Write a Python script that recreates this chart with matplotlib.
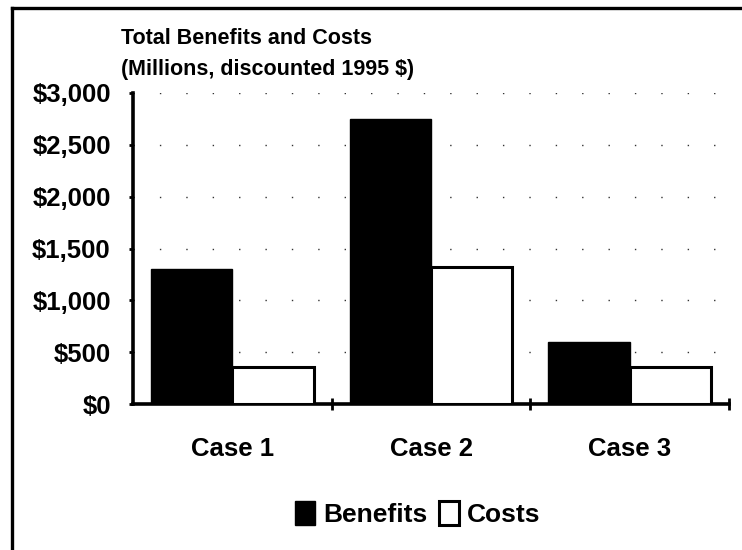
import matplotlib
matplotlib.use("Agg")
import matplotlib.pyplot as plt
from matplotlib.lines import Line2D
from matplotlib.ticker import FuncFormatter
import numpy as np

# Benefit-cost comparison, millions of discounted 1995 dollars
cases = ["Case 1", "Case 2", "Case 3"]
benefits = [1300, 2750, 600]
costs = [355, 1320, 355]
y_ticks = [0, 500, 1000, 1500, 2000, 2500, 3000]

plt.rcParams["font.family"] = ["Liberation Sans", "DejaVu Sans"]
plt.rcParams["font.weight"] = "bold"

W, H = 742, 550
fig = plt.figure(figsize=(W / 100, H / 100), dpi=100)
ax = fig.add_axes([133 / W, 1 - 404 / H, (729 - 133) / W, (404 - 93) / H])

x = np.arange(len(cases))
bw = 0.41
ax.bar(x - bw / 2, benefits, width=bw, color="black", edgecolor="black",
       linewidth=1.0, label="Benefits", zorder=3)
ax.bar(x + bw / 2, costs, width=bw, color="white", edgecolor="black",
       linewidth=2.2, label="Costs", zorder=3)

ax.set_xlim(-0.5, len(cases) - 0.5)
ax.set_ylim(0, 3000)

# dotted horizontal gridlines
ax.set_yticks(y_ticks)
ax.yaxis.set_major_formatter(FuncFormatter(lambda v, p: f"${v:,.0f}"))
ax.grid(axis="y", color="#333333", linestyle=(0, (1, 18)), linewidth=1.0,
        zorder=0)
ax.grid(axis="x", visible=False)

ax.set_xticks(x)
ax.set_xticklabels(cases)
ax.set_xticks(list(x[:-1] + 0.5) + [len(cases) - 0.5], minor=True)

ax.tick_params(axis="y", direction="out", length=3, width=2, pad=13,
               labelsize=18.5)
ax.tick_params(axis="x", which="major", length=0, pad=24, labelsize=18.5)
ax.tick_params(axis="x", which="minor", direction="inout", length=9, width=2)

for s in ["top", "right"]:
    ax.spines[s].set_visible(False)
for s in ["left", "bottom"]:
    ax.spines[s].set_linewidth(2.6)
ax.set_axisbelow(True)

for lbl in ax.get_xticklabels() + ax.get_yticklabels():
    lbl.set_fontweight("bold")

# chart heading
fig.text(121 / W, 1 - 38 / H, "Total Benefits and Costs", fontsize=15.5,
         fontweight="bold", ha="left", va="center")
fig.text(121 / W, 1 - 70 / H, "(Millions, discounted 1995 $)", fontsize=15.5,
         fontweight="bold", ha="left", va="center")

# legend below the plot
leg = fig.legend(loc="center", bbox_to_anchor=(418 / W, 1 - 514 / H), ncol=2,
                 frameon=False, fontsize=19, handlelength=0.75,
                 handleheight=1.0, handletextpad=0.3, columnspacing=0.45,
                 borderpad=0)
for t in leg.get_texts():
    t.set_fontweight("bold")

# outer frame (left and top edges)
fig.add_artist(Line2D([12 / W, 12 / W], [0, 1 - 8 / H], transform=fig.transFigure,
                      color="black", linewidth=2.4))
fig.add_artist(Line2D([12 / W, 1], [1 - 8 / H, 1 - 8 / H],
                      transform=fig.transFigure, color="black", linewidth=2.4))

fig.savefig("out.png", dpi=100)
